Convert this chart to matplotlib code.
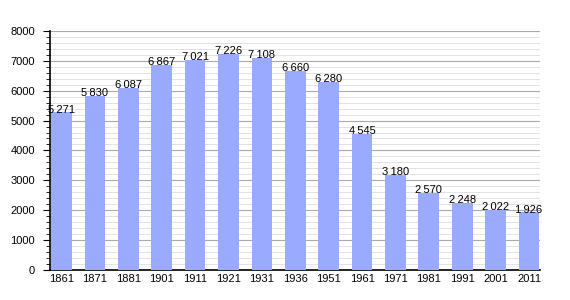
import matplotlib.pyplot as plt
from matplotlib.ticker import MultipleLocator

plt.rcParams["font.family"] = ["Liberation Sans", "DejaVu Sans"]

years = ["1861", "1871", "1881", "1901", "1911", "1921", "1931", "1936",
         "1951", "1961", "1971", "1981", "1991", "2001", "2011"]
population = [5271, 5830, 6087, 6867, 7021, 7226, 7108, 6660,
              6280, 4545, 3180, 2570, 2248, 2022, 1926]


def fmt(v):
    return f"{v:,}".replace(",", "\u2009")


fig = plt.figure(figsize=(5.7, 3.0), dpi=100)
ax = fig.add_axes([0.088, 0.1, 0.86, 0.797])

x = range(len(years))
ax.bar(x, population, width=0.62, color="#99aaff", zorder=3)
for i, v in zip(x, population):
    ax.text(i, v - 70, fmt(v), ha="center", va="bottom", fontsize=8, zorder=4)

ax.set_xlim(-0.34, len(years) - 0.66)
ax.set_ylim(0, 8000)
ax.set_xticks(list(x))
ax.set_xticklabels(years)
ax.yaxis.set_major_locator(MultipleLocator(1000))
ax.yaxis.set_minor_locator(MultipleLocator(200))
ax.grid(axis="y", which="major", color="#aaaaaa", linewidth=0.8, zorder=0)
ax.grid(axis="y", which="minor", color="#dddddd", linewidth=0.6, zorder=0)

for s in ["top", "right"]:
    ax.spines[s].set_visible(False)
ax.spines["left"].set_linewidth(1.2)
ax.spines["bottom"].set_linewidth(1.2)
ax.tick_params(axis="x", length=0, labelsize=8, pad=3)
ax.tick_params(axis="y", which="major", length=5, labelsize=8, pad=6)
ax.tick_params(axis="y", which="minor", length=3)

fig.savefig("out.png", dpi=100)
